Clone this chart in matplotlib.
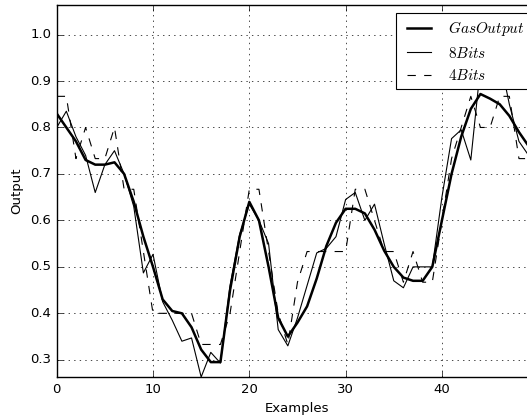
import matplotlib
matplotlib.use("Agg")
import matplotlib.pyplot as plt
import numpy as np

plt.style.use("classic")
plt.rcParams["mathtext.fontset"] = "cm"
plt.rcParams["font.family"] = ["DejaVu Sans"]

gas_output = [0.83, 0.80, 0.77, 0.73, 0.72, 0.72, 0.725, 0.70, 0.64, 0.565,
              0.50, 0.43, 0.405, 0.40, 0.37, 0.322, 0.295, 0.295, 0.45, 0.565,
              0.64, 0.60, 0.50, 0.39, 0.35, 0.38, 0.415, 0.475, 0.545, 0.595,
              0.625, 0.625, 0.615, 0.58, 0.535, 0.50, 0.477, 0.47, 0.47, 0.50,
              0.60, 0.70, 0.78, 0.84, 0.872, 0.862, 0.85, 0.825, 0.79, 0.76]

bits8 = [0.80, 0.835, 0.78, 0.74, 0.66, 0.72, 0.75, 0.70, 0.63, 0.487,
         0.527, 0.425, 0.385, 0.34, 0.347, 0.263, 0.316, 0.293, 0.46, 0.57,
         0.635, 0.60, 0.55, 0.365, 0.33, 0.39, 0.46, 0.53, 0.54, 0.565,
         0.645, 0.66, 0.60, 0.635, 0.55, 0.47, 0.455, 0.50, 0.50, 0.50,
         0.65, 0.776, 0.795, 0.73, 0.93, 1.0, 0.95, 0.85, 0.77, 0.74]

bits4 = [0.867, 0.867, 0.733, 0.8, 0.733, 0.733, 0.8, 0.667, 0.667, 0.533,
         0.4, 0.4, 0.4, 0.4, 0.4, 0.333, 0.333, 0.333, 0.4, 0.533,
         0.667, 0.667, 0.533, 0.4, 0.333, 0.467, 0.533, 0.533, 0.533, 0.533,
         0.533, 0.667, 0.667, 0.6, 0.533, 0.533, 0.467, 0.533, 0.467, 0.467,
         0.6, 0.733, 0.8, 0.867, 0.8, 0.8, 0.867, 0.867, 0.733, 0.733]

x_ticks = [0, 10, 20, 30, 40]
y_ticks = [0.3, 0.4, 0.5, 0.6, 0.7, 0.8, 0.9, 1.0]

examples = np.arange(len(gas_output))

fig = plt.figure(figsize=(5.27, 4.15), dpi=100, facecolor="white")
ax = fig.add_axes([0.1076, 0.0916, 0.9137, 0.8957])
ax.set_facecolor("white")

ax.plot(examples, gas_output, "k-", linewidth=1.8, label="$GasOutput$")
ax.plot(examples, bits8, "k-", linewidth=0.8, label="$8Bits$")
ax.plot(examples, bits4, "k--", linewidth=0.8, label="$4Bits$")

ax.set_xlim(0, 50)
ax.set_ylim(0.263, 1.063)
ax.set_xticks(x_ticks)
ax.set_yticks(y_ticks)
ax.tick_params(labelsize=9.5)
ax.grid(True, color="k", linestyle=":", linewidth=0.5)
# grid line at the right limit, beyond the visible canvas
ax.axvline(50, color="k", linestyle=":", linewidth=0.5)
ax.set_xlabel("Examples", fontsize=9.5)
ax.set_ylabel("Output", fontsize=9.5)

leg = ax.legend(loc="upper right", fontsize=11, handlelength=2.2)
leg.get_frame().set_linewidth(0.8)

fig.savefig("out.png", dpi=100, facecolor="white")
